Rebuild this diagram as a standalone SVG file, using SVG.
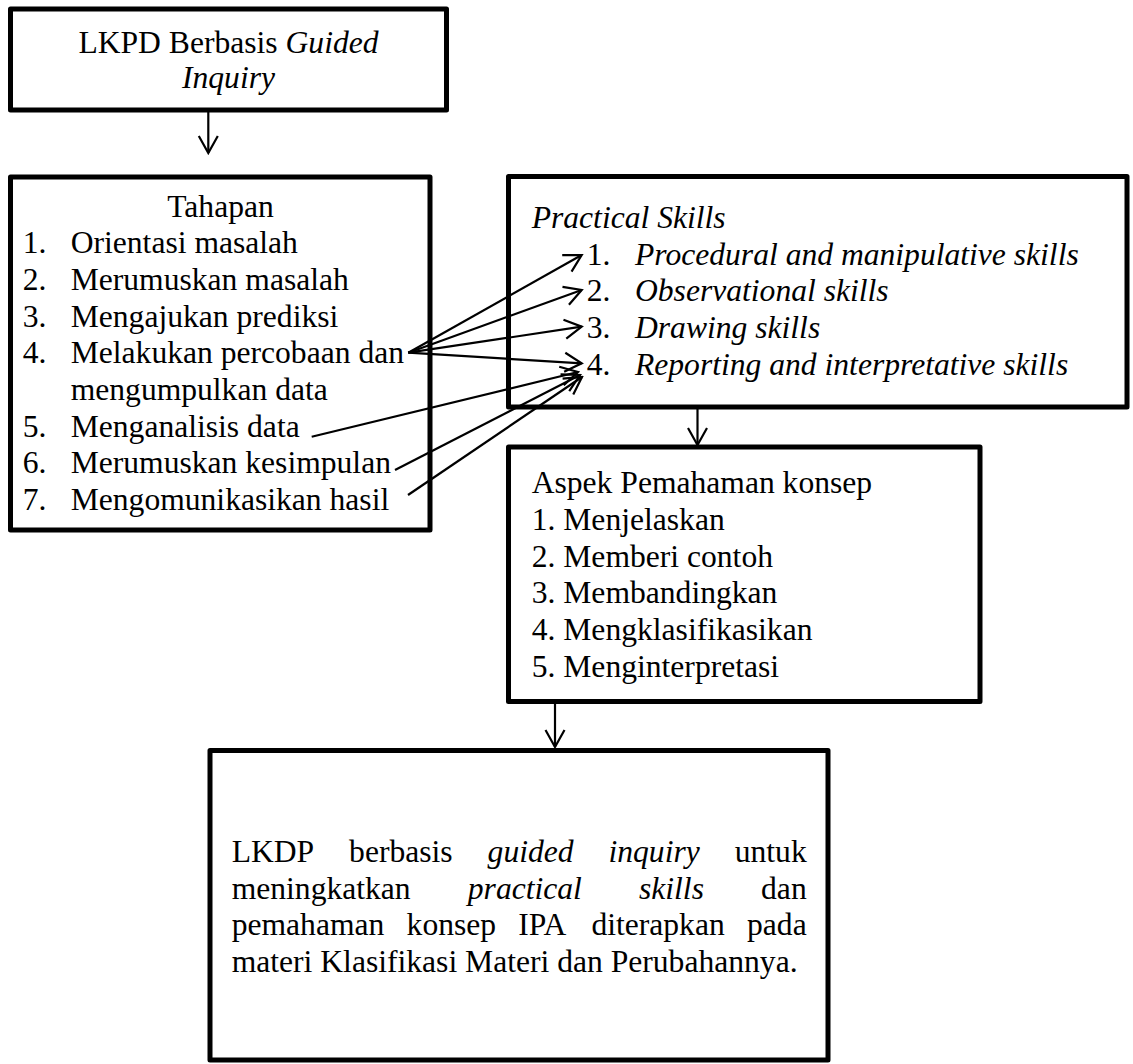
<svg xmlns="http://www.w3.org/2000/svg" width="1133" height="1064" viewBox="0 0 1133 1064">
<style>
.box{fill:#fff;stroke:#000;stroke-width:5;stroke-linejoin:round}
.t{font-family:"Liberation Serif","Times New Roman",serif;font-size:31.6px;fill:#000}
.i{font-style:italic}
.c{stroke:#000;stroke-width:2.2;fill:none}
</style>
<defs>
<marker id="ah" markerUnits="userSpaceOnUse" viewBox="-20 -12 22 24" refX="0" refY="0" markerWidth="22" markerHeight="24" orient="auto">
<path d="M-17,-9.5 L0,0 L-17,9.5" fill="none" stroke="#000" stroke-width="2.2"/>
</marker>
</defs>
<rect width="1133" height="1064" fill="#fff"/>
<g id="node-lkpd">
<rect class="box" x="10.5" y="9" width="436" height="101"/>
<text class="t" x="228.5" y="52.7" text-anchor="middle">LKPD Berbasis <tspan class="i">Guided</tspan></text>
<text class="t i" x="228.5" y="88" text-anchor="middle">Inquiry</text>
</g>
<g id="node-tahapan">
<rect class="box" x="10.5" y="177" width="419.5" height="353"/>
<text class="t" x="220.5" y="216.7" text-anchor="middle">Tahapan</text>
<text class="t" x="22.7" y="253.3">1.</text><text class="t" x="70.7" y="253.3">Orientasi masalah</text>
<text class="t" x="22.7" y="290">2.</text><text class="t" x="70.7" y="290">Merumuskan masalah</text>
<text class="t" x="22.7" y="326.7">3.</text><text class="t" x="70.7" y="326.7">Mengajukan prediksi</text>
<text class="t" x="22.7" y="363.3">4.</text><text class="t" x="70.7" y="363.3">Melakukan percobaan dan</text>
<text class="t" x="70.7" y="400">mengumpulkan data</text>
<text class="t" x="22.7" y="436.7">5.</text><text class="t" x="70.7" y="436.7">Menganalisis data</text>
<text class="t" x="22.7" y="473.4">6.</text><text class="t" x="70.7" y="473.4">Merumuskan kesimpulan</text>
<text class="t" x="22.7" y="510">7.</text><text class="t" x="70.7" y="510">Mengomunikasikan hasil</text>
</g>
<g id="node-practical">
<rect class="box" x="508.5" y="176.5" width="618.5" height="230.5"/>
<text class="t i" x="531.7" y="227.5">Practical Skills</text>
<text class="t" x="586.7" y="264.5">1.</text><text class="t i" x="635" y="264.5">Procedural and manipulative skills</text>
<text class="t" x="586.7" y="301.2">2.</text><text class="t i" x="635" y="301.2">Observational skills</text>
<text class="t" x="586.7" y="337.9">3.</text><text class="t i" x="635" y="337.9">Drawing skills</text>
<text class="t" x="586.7" y="374.6">4.</text><text class="t i" x="635" y="374.6">Reporting and interpretative skills</text>
</g>
<g id="node-aspek">
<rect class="box" x="508.5" y="447" width="471.5" height="254.5"/>
<text class="t" x="531.7" y="493.3">Aspek Pemahaman konsep</text>
<text class="t" x="531.7" y="530">1. Menjelaskan</text>
<text class="t" x="531.7" y="566.7">2. Memberi contoh</text>
<text class="t" x="531.7" y="603.4">3. Membandingkan</text>
<text class="t" x="531.7" y="640.1">4. Mengklasifikasikan</text>
<text class="t" x="531.7" y="676.8">5. Menginterpretasi</text>
</g>
<g id="node-hasil">
<rect class="box" x="210" y="750.5" width="618" height="309.5"/>
<text class="t" x="231.7" y="862">LKDP</text>
<text class="t" x="349.1" y="862">berbasis</text>
<text class="t i" x="487.6" y="862">guided</text>
<text class="t i" x="608.5" y="862">inquiry</text>
<text class="t" x="806.7" y="862" text-anchor="end">untuk</text>
<text class="t" x="231.7" y="898.5">meningkatkan</text>
<text class="t i" x="467.8" y="898.5">practical</text>
<text class="t i" x="639" y="898.5">skills</text>
<text class="t" x="806.7" y="898.5" text-anchor="end">dan</text>
<text class="t" x="231.7" y="935">pemahaman</text>
<text class="t" x="406.6" y="935">konsep</text>
<text class="t" x="518.3" y="935">IPA</text>
<text class="t" x="591.4" y="935">diterapkan</text>
<text class="t" x="806.7" y="935" text-anchor="end">pada</text>
<text class="t" x="231.7" y="972">materi Klasifikasi Materi dan Perubahannya.</text>
</g>
<g id="connectors">
<line class="c" x1="208.3" y1="112" x2="208.3" y2="153" marker-end="url(#ah)"/>
<line class="c" x1="408.3" y1="352.7" x2="581.7" y2="255" marker-end="url(#ah)"/>
<line class="c" x1="408.3" y1="352.7" x2="581.7" y2="290" marker-end="url(#ah)"/>
<line class="c" x1="408.3" y1="352.7" x2="581.7" y2="326.7" marker-end="url(#ah)"/>
<line class="c" x1="408.3" y1="352.7" x2="581.7" y2="363.3" marker-end="url(#ah)"/>
<line class="c" x1="311.7" y1="436.7" x2="578" y2="372" marker-end="url(#ah)"/>
<line class="c" x1="395" y1="470" x2="580" y2="375" marker-end="url(#ah)"/>
<line class="c" x1="408" y1="495" x2="582" y2="377" marker-end="url(#ah)"/>
<line class="c" x1="697.5" y1="409" x2="697.5" y2="445" marker-end="url(#ah)"/>
<line class="c" x1="555" y1="704" x2="555" y2="747" marker-end="url(#ah)"/>
</g>
</svg>
